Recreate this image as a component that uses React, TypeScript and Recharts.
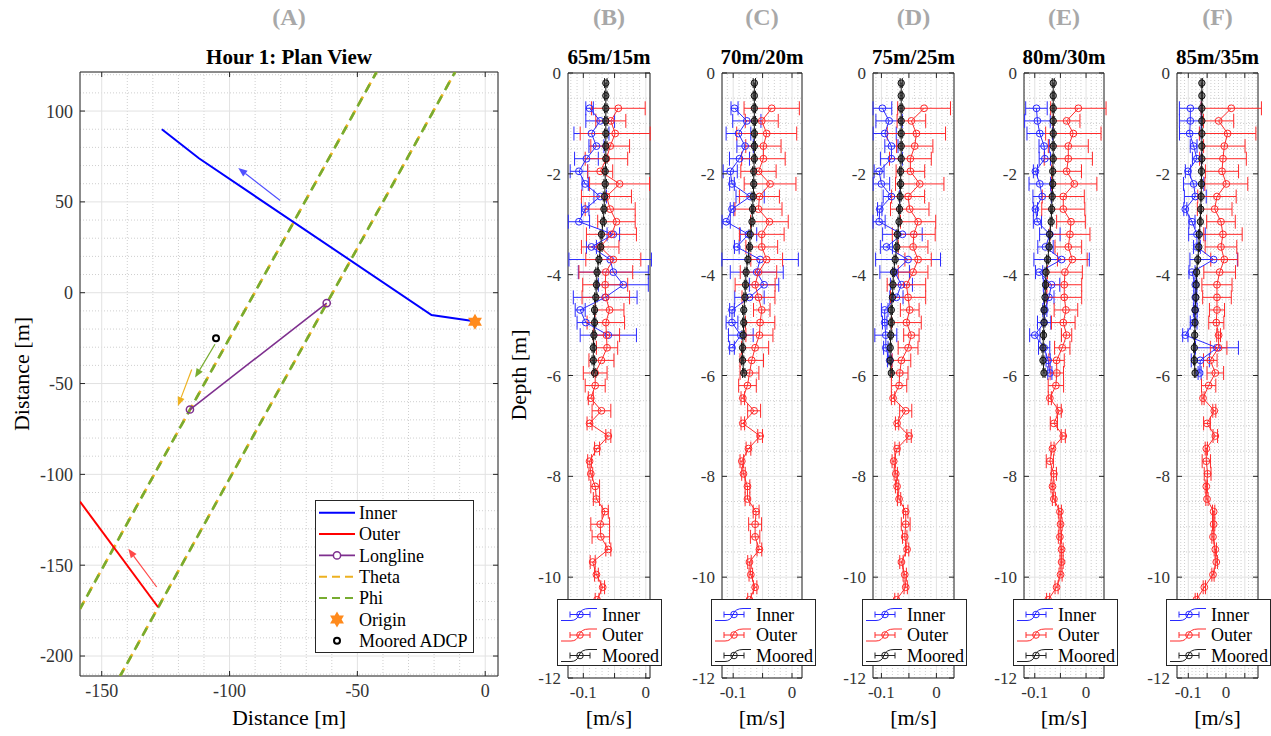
import React from "react";
import {
  ScatterChart,
  Scatter,
  XAxis,
  YAxis,
  CartesianGrid,
  ErrorBar,
  ReferenceLine,
  ReferenceArea,
} from "recharts";

const FONT = "Liberation Serif, Times New Roman, Times, serif";
const AXIS = "#262626";
const TICK_TXT = "#333333";
const GRID = "#e2e2e2";
const MINOR = "#cfcfcf";
const TICK_MARGIN = 7;
const TICK_LEN = 5;

// ---------- (A) plan view ----------
const innerTrack = [
  { x: -126.5, y: 90 },
  { x: -112, y: 74 },
  { x: -21, y: -12.3 },
  { x: -3.5, y: -15.9 },
];
const outerTrack = [
  { x: -158.5, y: -115 },
  { x: -128, y: -173 },
];
const longline = [
  { x: -115.5, y: -64.3 },
  { x: -62, y: -5.7 },
];
const thetaA = [
  { x: -158.5, y: -174 },
  { x: -42.5, y: 121.5 },
];
const thetaB = [
  { x: -142.8, y: -211 },
  { x: -11.8, y: 121.5 },
];
const phiA = [
  { x: -158.5, y: -174 },
  { x: -42.5, y: 121.5 },
];
const phiB = [
  { x: -142.8, y: -211 },
  { x: -11.8, y: 121.5 },
];
const origin = [{ x: -4, y: -16 }];
const mooredAdcp = [{ x: -105.3, y: -25.1 }];
const arrowInner = [{ x: -80.2, y: 50.8 }, { x: -96.6, y: 68.6 }];
const arrowOuter = [{ x: -128.5, y: -162 }, { x: -139.6, y: -141 }];
const arrowPhi = [{ x: -105.7, y: -28.4 }, { x: -113.5, y: -46.7 }];
const arrowTheta = [{ x: -114.8, y: -42.3 }, { x: -120.2, y: -62.4 }];

const planXTicks = [-150, -100, -50, 0];
const planYTicks = [-200, -150, -100, -50, 0, 50, 100];

// ---------- (B)-(F) velocity profiles ----------
const mooredDepth = [
  -0.2, -0.45, -0.7, -0.95, -1.2, -1.45, -1.7, -1.95, -2.2, -2.45, -2.7, -2.95,
  -3.2, -3.45, -3.7, -3.95, -4.2, -4.45, -4.7, -4.95, -5.2, -5.45, -5.7, -5.95,
];
const mooredVel = [
  -0.064, -0.064, -0.064, -0.064, -0.064, -0.064, -0.064, -0.065, -0.065, -0.066,
  -0.067, -0.068, -0.071, -0.072, -0.075, -0.078, -0.079, -0.08, -0.082, -0.082,
  -0.083, -0.084, -0.084, -0.082,
];
const mooredErr = [
  0.002, 0.002, 0.002, 0.002, 0.002, 0.002, 0.002, 0.002, 0.002, 0.002, 0.002, 0.002,
  0.002, 0.002, 0.002, 0.002, 0.002, 0.002, 0.002, 0.002, 0.002, 0.002, 0.002, 0.002,
];

const innerDepth = [
  -0.7, -0.95, -1.2, -1.45, -1.7, -1.95, -2.2, -2.45, -2.7, -2.95, -3.2, -3.45,
  -3.7, -3.95, -4.2, -4.45, -4.7, -4.95, -5.2, -5.45, -5.7, -5.95,
];
const outerDepth = [
  -0.7, -0.95, -1.2, -1.45, -1.7, -1.95, -2.2, -2.45, -2.7, -2.95, -3.2, -3.45,
  -3.7, -3.95, -4.2, -4.45, -4.7, -4.95, -5.2, -5.45, -5.7, -5.95, -6.2, -6.45,
  -6.7, -6.95, -7.2, -7.45, -7.7, -7.95, -8.2, -8.45, -8.7, -8.95, -9.2, -9.45,
  -9.7, -9.95, -10.2, -10.45,
];

const innerB = [-0.09, -0.073, -0.087, -0.079, -0.095, -0.107, -0.097, -0.073, -0.097, -0.107, -0.052, -0.087, -0.057, -0.052, -0.036, -0.065, -0.105, -0.096, -0.06];
const innerErrB = [0.006, 0.023, 0.028, 0.012, 0.019, 0.014, 0.005, 0.01, 0.006, 0.017, 0.01, 0.008, 0.066, 0.056, 0.04, 0.051, 0.008, 0.014, 0.045];
const outerB = [
  -0.044, -0.056, -0.049, -0.057, -0.063, -0.073, -0.042, -0.063, -0.057, -0.047,
  -0.055, -0.073, -0.052, -0.064, -0.065, -0.064, -0.058, -0.064, -0.063, -0.062,
  -0.071, -0.081, -0.081, -0.088, -0.071, -0.09, -0.06, -0.078, -0.09, -0.088,
  -0.081, -0.079, -0.065, -0.073, -0.072, -0.06, -0.085, -0.079, -0.069, -0.078,
];
const outerErrB = [
  0.043, 0.024, 0.056, 0.031, 0.034, 0.02, 0.048, 0.04, 0.04, 0.03,
  0.04, 0.03, 0.044, 0.043, 0.036, 0.038, 0.023, 0.03, 0.021, 0.017,
  0.02, 0.019, 0.016, 0.004, 0.015, 0.004, 0.004, 0.004, 0.003, 0.003,
  0.007, 0.005, 0.005, 0.015, 0.014, 0.004, 0.004, 0.003, 0.003, 0.003,
];

const innerC = [-0.0977, -0.0768, -0.091, -0.0797, -0.0893, -0.105, -0.102, -0.0712, -0.102, -0.1119, -0.074, -0.0938, -0.0542, -0.0599, -0.0475, -0.0723, -0.102, -0.102, -0.087, -0.102];
const innerErrC = [0.006, 0.024, 0.021, 0.014, 0.017, 0.012, 0.004, 0.024, 0.003, 0.007, 0.014, 0.004, 0.065, 0.045, 0.025, 0.025, 0.004, 0.01, 0.021, 0.004];
const outerC = [
  -0.0345, -0.0514, -0.043, -0.0486, -0.0486, -0.057, -0.0373, -0.0554, -0.057, -0.0384,
  -0.0514, -0.0514, -0.043, -0.057, -0.0627, -0.057, -0.0514, -0.0542, -0.0554, -0.0627,
  -0.0684, -0.0723, -0.0757, -0.0836, -0.0644, -0.0836, -0.0542, -0.074, -0.0853, -0.0825,
  -0.0757, -0.0757, -0.061, -0.0627, -0.0627, -0.0554, -0.0723, -0.07, -0.0627, -0.0723,
];
const outerErrC = [
  0.047, 0.028, 0.051, 0.03, 0.037, 0.03, 0.044, 0.034, 0.04, 0.032,
  0.038, 0.027, 0.027, 0.031, 0.034, 0.028, 0.014, 0.025, 0.023, 0.023,
  0.02, 0.016, 0.015, 0.003, 0.011, 0.003, 0.004, 0.004, 0.003, 0.003,
  0.004, 0.004, 0.005, 0.011, 0.008, 0.004, 0.003, 0.003, 0.003, 0.003,
];

const innerD = [-0.0982, -0.086, -0.094, -0.0818, -0.0818, -0.1042, -0.1, -0.0818, -0.103, -0.1042, -0.0618, -0.0909, -0.0515, -0.0758, -0.0636, -0.0727, -0.094, -0.094, -0.092, -0.092, -0.085];
const innerErrD = [0.017, 0.024, 0.021, 0.012, 0.02, 0.009, 0.015, 0.015, 0.004, 0.011, 0.036, 0.011, 0.059, 0.027, 0.02, 0.012, 0.006, 0.004, 0.02, 0.004, 0.004];
const outerD = [
  -0.0224, -0.0455, -0.0364, -0.0394, -0.0473, -0.0473, -0.0303, -0.0515, -0.0485, -0.0333,
  -0.0412, -0.0424, -0.0333, -0.0424, -0.0545, -0.0515, -0.0485, -0.0545, -0.0455, -0.0515,
  -0.0636, -0.0667, -0.0679, -0.0788, -0.0558, -0.0715, -0.0497, -0.0715, -0.0776, -0.0739,
  -0.0715, -0.0679, -0.0558, -0.0558, -0.0576, -0.0533, -0.0636, -0.0576, -0.0558, -0.0727,
];
const outerErrD = [
  0.048, 0.026, 0.053, 0.033, 0.038, 0.026, 0.044, 0.03, 0.035, 0.032,
  0.039, 0.027, 0.024, 0.027, 0.035, 0.032, 0.017, 0.027, 0.014, 0.018,
  0.017, 0.015, 0.014, 0.003, 0.011, 0.003, 0.004, 0.004, 0.003, 0.003,
  0.003, 0.003, 0.004, 0.008, 0.004, 0.003, 0.003, 0.003, 0.003, 0.003,
];

const innerE = [-0.0967, -0.0948, -0.0902, -0.0817, -0.0804, -0.0987, -0.0902, -0.0856, -0.0987, -0.0948, -0.0706, -0.0791, -0.0477, -0.0915, -0.0673, -0.0725, -0.0804, -0.0817, -0.1, -0.0817, -0.0739, -0.0706];
const innerErrE = [0.021, 0.025, 0.025, 0.01, 0.011, 0.004, 0.021, 0.018, 0.004, 0.008, 0.02, 0.015, 0.054, 0.007, 0.016, 0.01, 0.004, 0.013, 0.01, 0.011, 0.004, 0.004];
const outerE = [
  -0.015, -0.0379, -0.0248, -0.0346, -0.0346, -0.0379, -0.0229, -0.0444, -0.0444, -0.0294,
  -0.0314, -0.0346, -0.0268, -0.0412, -0.0425, -0.0425, -0.0392, -0.0444, -0.0379, -0.0464,
  -0.0575, -0.057, -0.0588, -0.0706, -0.0523, -0.0627, -0.0444, -0.0654, -0.0706, -0.0627,
  -0.0654, -0.0627, -0.051, -0.0497, -0.051, -0.0477, -0.0477, -0.0497, -0.0575, -0.0739,
];
const outerErrE = [
  0.054, 0.026, 0.054, 0.039, 0.047, 0.029, 0.044, 0.041, 0.042, 0.028,
  0.039, 0.026, 0.029, 0.034, 0.034, 0.034, 0.023, 0.023, 0.01, 0.015,
  0.015, 0.013, 0.015, 0.003, 0.004, 0.007, 0.004, 0.003, 0.007, 0.005,
  0.003, 0.003, 0.003, 0.003, 0.003, 0.003, 0.003, 0.003, 0.003, 0.003,
];

const innerF = [-0.0946, -0.0946, -0.0964, -0.0858, -0.077, -0.1008, -0.0858, -0.0814, -0.1079, -0.0902, -0.077, -0.077, -0.0327, -0.0902, -0.0814, -0.0814, -0.0814, -0.0858, -0.1079, -0.0239, -0.0681, -0.07];
const innerErrF = [0.029, 0.029, 0.027, 0.009, 0.012, 0.007, 0.027, 0.029, 0.004, 0.008, 0.022, 0.009, 0.063, 0.008, 0.004, 0.004, 0.005, 0.009, 0.007, 0.057, 0.024, 0.004];
const outerF = [
  0.0141, -0.0195, 0.0044, -0.0044, -0.008, -0.0106, 0.0009, -0.0239, -0.03, -0.0133,
  -0.008, -0.0133, -0.0044, -0.0168, -0.0239, -0.0239, -0.0239, -0.0257, -0.0195, -0.0195,
  -0.0416, -0.0283, -0.046, -0.061, -0.031, -0.0504, -0.0283, -0.0522, -0.0522, -0.0487,
  -0.0522, -0.0504, -0.0327, -0.0327, -0.0345, -0.0283, -0.0257, -0.0345, -0.0575, -0.0787,
];
const outerErrF = [
  0.08, 0.04, 0.075, 0.055, 0.062, 0.044, 0.057, 0.051, 0.046, 0.038,
  0.051, 0.042, 0.036, 0.042, 0.04, 0.038, 0.02, 0.02, 0.005, 0.022,
  0.018, 0.022, 0.019, 0.003, 0.004, 0.009, 0.006, 0.003, 0.011, 0.009,
  0.003, 0.003, 0.003, 0.003, 0.003, 0.003, 0.003, 0.003, 0.003, 0.003,
];

const depthTicks = [-12, -10, -8, -6, -4, -2, 0];
const velTicks = [-0.1, -0.05, 0, 0.05];

const panels = [
  { letter: "(B)", title: "65m/15m", left: 568, width: 82, domain: [-0.1245, 0.0067], inner: innerB, innerErr: innerErrB, outer: outerB, outerErr: outerErrB },
  { letter: "(C)", title: "70m/20m", left: 722, width: 80, domain: [-0.119, 0.017], inner: innerC, innerErr: innerErrC, outer: outerC, outerErr: outerErrC },
  { letter: "(D)", title: "75m/25m", left: 873, width: 81, domain: [-0.1153, 0.032], inner: innerD, innerErr: innerErrD, outer: outerD, outerErr: outerErrD },
  { letter: "(E)", title: "80m/30m", left: 1024, width: 80, domain: [-0.121, 0.035], inner: innerE, innerErr: innerErrE, outer: outerE, outerErr: outerErrE },
  { letter: "(F)", title: "85m/35m", left: 1177, width: 81, domain: [-0.13, 0.085], inner: innerF, innerErr: innerErrF, outer: outerF, outerErr: outerErrF },
];

// grid helper (not data)
const steps = (lo: number, hi: number, step: number) => {
  const out: number[] = [];
  for (let v = Math.ceil(lo / step - 1e-9) * step; v <= hi + 1e-9; v += step) {
    out.push(Math.round(v * 1e6) / 1e6);
  }
  return out;
};

const svgText = { fontFamily: FONT };

const Txt = ({ x, y, size, bold, color, rotate, children }: any) => (
  <div
    style={{
      position: "absolute",
      left: x,
      top: y,
      transform: `translate(-50%, -50%)${rotate ? " rotate(-90deg)" : ""}`,
      fontSize: size,
      fontWeight: bold ? 700 : 400,
      color: color || "#000",
      fontFamily: FONT,
      whiteSpace: "nowrap",
      lineHeight: 1,
    }}
  >
    {children}
  </div>
);

const makeXTick = (plotH: number, size: number, fmt: (v: number) => string) => (props: any) => {
  const { x, y, payload } = props;
  const axisY = y - TICK_MARGIN;
  return (
    <g>
      <line x1={x} x2={x} y1={axisY} y2={axisY - TICK_LEN} stroke={AXIS} />
      <line x1={x} x2={x} y1={axisY - plotH} y2={axisY - plotH + TICK_LEN} stroke={AXIS} />
      <text x={x} y={y} dy="0.75em" textAnchor="middle" fontSize={size} fill={TICK_TXT} fontFamily={FONT} style={svgText}>
        {fmt(payload.value)}
      </text>
    </g>
  );
};

const makeYTick = (plotW: number, size: number) => (props: any) => {
  const { x, y, payload } = props;
  const axisX = x + TICK_MARGIN;
  return (
    <g>
      <line x1={axisX} x2={axisX + TICK_LEN} y1={y} y2={y} stroke={AXIS} />
      <line x1={axisX + plotW} x2={axisX + plotW - TICK_LEN} y1={y} y2={y} stroke={AXIS} />
      <text x={x} y={y} dy="0.36em" textAnchor="end" fontSize={size} fill={TICK_TXT} fontFamily={FONT} style={svgText}>
        {String(payload.value)}
      </text>
    </g>
  );
};

const arrowShape = (color: string) => (p: any) => {
  const { x1, y1, x2, y2 } = p;
  const a = Math.atan2(y2 - y1, x2 - x1);
  const L = 9;
  const W = 3.6;
  const bx = x2 - L * Math.cos(a);
  const by = y2 - L * Math.sin(a);
  const px = -Math.sin(a) * W;
  const py = Math.cos(a) * W;
  return (
    <g>
      <line x1={x1} y1={y1} x2={bx} y2={by} stroke={color} strokeWidth={1.2} />
      <polygon points={`${x2},${y2} ${bx + px},${by + py} ${bx - px},${by - py}`} fill={color} />
    </g>
  );
};

const hexagram = (cx: number, cy: number, R: number) => {
  const pts: string[] = [];
  for (let k = 0; k < 12; k++) {
    const ang = (-90 + k * 30) * (Math.PI / 180);
    const r = k % 2 === 0 ? R : R * 0.577;
    pts.push(`${cx + r * Math.cos(ang)},${cy + r * Math.sin(ang)}`);
  }
  return pts.join(" ");
};

const noDot = () => <g />;

const PlanView = () => {
  const plotW = 418;
  const plotH = 604;
  const xd: [number, number] = [-158.5, 5];
  const yd: [number, number] = [-211, 121.5];
  const minorX = steps(xd[0], xd[1], 10).filter((v) => v % 50 !== 0);
  const minorY = steps(yd[0], yd[1], 10).filter((v) => v % 50 !== 0);
  return (
    <div style={{ position: "absolute", left: 0, top: 0 }}>
      <ScatterChart width={510} height={736} margin={{ top: 72, right: 12, bottom: 30, left: 10 }}>
        {minorX.map((v) => (
          <ReferenceLine key={`mx${v}`} x={v} stroke={MINOR} strokeDasharray="1 2" zIndex={-100} />
        ))}
        {minorY.map((v) => (
          <ReferenceLine key={`my${v}`} y={v} stroke={MINOR} strokeDasharray="1 2" zIndex={-100} />
        ))}
        <CartesianGrid stroke={GRID} />
        <XAxis
          type="number"
          dataKey="x"
          domain={xd}
          allowDataOverflow
          ticks={planXTicks}
          interval={0}
          height={30}
          axisLine={false}
          tickLine={false}
          tickSize={0}
          tickMargin={TICK_MARGIN}
          tick={makeXTick(plotH, 18, (v) => String(v))}
        />
        <YAxis
          type="number"
          dataKey="y"
          domain={yd}
          allowDataOverflow
          ticks={planYTicks}
          interval={0}
          width={70}
          axisLine={false}
          tickLine={false}
          tickSize={0}
          tickMargin={TICK_MARGIN}
          tick={makeYTick(plotW, 18)}
        />
        <Scatter data={thetaA} shape={noDot} line={{ stroke: "#EDB120", strokeWidth: 2.6, strokeDasharray: "9 7" }} isAnimationActive={false} />
        <Scatter data={thetaB} shape={noDot} line={{ stroke: "#EDB120", strokeWidth: 2.6, strokeDasharray: "9 7" }} isAnimationActive={false} />
        <Scatter data={phiA} shape={noDot} line={{ stroke: "#77AC30", strokeWidth: 2.6, strokeDasharray: "9 7", strokeDashoffset: 2 }} isAnimationActive={false} />
        <Scatter data={phiB} shape={noDot} line={{ stroke: "#77AC30", strokeWidth: 2.6, strokeDasharray: "9 7", strokeDashoffset: 2 }} isAnimationActive={false} />
        <Scatter data={innerTrack} shape={noDot} line={{ stroke: "#0000ff", strokeWidth: 2 }} isAnimationActive={false} />
        <Scatter data={outerTrack} shape={noDot} line={{ stroke: "#ff0000", strokeWidth: 2 }} isAnimationActive={false} />
        <Scatter
          data={longline}
          line={{ stroke: "#7E2F8E", strokeWidth: 1.6 }}
          shape={(p: any) => <circle cx={p.cx} cy={p.cy} r={3.6} fill="none" stroke="#7E2F8E" strokeWidth={1.5} />}
          isAnimationActive={false}
        />
        <Scatter
          data={origin}
          shape={(p: any) => <polygon points={hexagram(p.cx, p.cy, 8)} fill="#ff8a1c" />}
          isAnimationActive={false}
        />
        <Scatter
          data={mooredAdcp}
          shape={(p: any) => <circle cx={p.cx} cy={p.cy} r={3} fill="none" stroke="#000" strokeWidth={2} />}
          isAnimationActive={false}
        />
        <ReferenceLine segment={arrowInner} shape={arrowShape("#5050ff")} ifOverflow="visible" />
        <ReferenceLine segment={arrowOuter} shape={arrowShape("#ff4848")} ifOverflow="visible" />
        <ReferenceLine segment={arrowPhi} shape={arrowShape("#77AC30")} ifOverflow="visible" />
        <ReferenceLine segment={arrowTheta} shape={arrowShape("#EDB120")} ifOverflow="visible" />
        <ReferenceArea x1={xd[0]} x2={xd[1]} y1={yd[0]} y2={yd[1]} fill="none" stroke={AXIS} strokeWidth={1} ifOverflow="visible" />
      </ScatterChart>
    </div>
  );
};

const PlanLegend = () => {
  const rows = ["Inner", "Outer", "Longline", "Theta", "Phi", "Origin", "Moored ADCP"];
  const x0 = 4;
  const x1 = 40;
  const cx = 22;
  return (
    <div style={{ position: "absolute", left: 315, top: 500 }}>
      <svg width={160} height={154}>
        <rect x={0.5} y={0.5} width={158} height={152} fill="#fff" stroke={AXIS} />
        {rows.map((r, i) => {
          const y = 12.7 + i * 21.35;
          let icon: React.ReactNode = null;
          if (i === 0) icon = <line x1={x0} x2={x1} y1={y} y2={y} stroke="#0000ff" strokeWidth={2} />;
          if (i === 1) icon = <line x1={x0} x2={x1} y1={y} y2={y} stroke="#ff0000" strokeWidth={2} />;
          if (i === 2)
            icon = (
              <g>
                <line x1={x0} x2={x1} y1={y} y2={y} stroke="#7E2F8E" strokeWidth={1.6} />
                <circle cx={cx} cy={y} r={3.6} fill="#fff" stroke="#7E2F8E" strokeWidth={1.5} />
              </g>
            );
          if (i === 3) icon = <line x1={x0} x2={x1} y1={y} y2={y} stroke="#EDB120" strokeWidth={2} strokeDasharray="8 5" />;
          if (i === 4) icon = <line x1={x0} x2={x1} y1={y} y2={y} stroke="#77AC30" strokeWidth={2} strokeDasharray="8 5" />;
          if (i === 5) icon = <polygon points={hexagram(cx, y, 8)} fill="#ff8a1c" />;
          if (i === 6) icon = <circle cx={cx} cy={y} r={3} fill="none" stroke="#000" strokeWidth={2} />;
          return (
            <g key={r}>
              {icon}
              <text x={44} y={y} dy="0.35em" fontSize={18} fill="#000" fontFamily={FONT} style={svgText}>
                {r}
              </text>
            </g>
          );
        })}
      </svg>
    </div>
  );
};

const openCircle = (color: string) => (p: any) => (
  <circle cx={p.cx} cy={p.cy} r={3.4} fill="none" stroke={color} strokeWidth={1} />
);
const mooredCircle = (p: any) => (
  <circle cx={p.cx} cy={p.cy} r={3.2} fill="rgba(60,60,60,0.5)" stroke="#111" strokeWidth={1} />
);

const ProfileLegend = ({ left }: { left: number }) => {
  const items = [
    { name: "Inner", color: "#2a2aff" },
    { name: "Outer", color: "#ff2a2a" },
    { name: "Moored", color: "#222" },
  ];
  return (
    <div style={{ position: "absolute", left: left - 11, top: 599 }}>
      <svg width={106} height={68}>
        <rect x={0.5} y={0.5} width={104} height={66} fill="#fff" stroke={AXIS} />
        {items.map((it, i) => {
          const y = 15.5 + i * 20.5;
          return (
            <g key={it.name}>
              <path d={`M4,${y + 6} L14,${y + 6} Q20,${y + 6} 22,${y} Q24,${y - 6} 32,${y - 6} L40,${y - 6}`} fill="none" stroke={it.color} strokeWidth={1} />
              <line x1={13} x2={33} y1={y} y2={y} stroke={it.color} />
              <line x1={13} x2={13} y1={y - 3} y2={y + 3} stroke={it.color} />
              <line x1={33} x2={33} y1={y - 3} y2={y + 3} stroke={it.color} />
              <circle cx={23} cy={y} r={3.3} fill="none" stroke={it.color} />
              <text x={45} y={y} dy="0.35em" fontSize={18} fill="#000" fontFamily={FONT} style={svgText}>
                {it.name}
              </text>
            </g>
          );
        })}
      </svg>
    </div>
  );
};

const ProfilePanel = ({ cfg }: { cfg: (typeof panels)[number] }) => {
  const plotH = 605;
  const yd: [number, number] = [-12, 0];
  const xd = cfg.domain as [number, number];
  const inner = cfg.inner.map((v, i) => ({ v, d: innerDepth[i], e: cfg.innerErr[i] }));
  const outer = cfg.outer.map((v, i) => ({ v, d: outerDepth[i], e: cfg.outerErr[i] }));
  const moored = mooredVel.map((v, i) => ({ v, d: mooredDepth[i], e: mooredErr[i] }));
  const ticks = velTicks.filter((t) => t >= xd[0] && t <= xd[1]);
  const minorX = steps(xd[0], xd[1], 0.01).filter((v) => Math.abs(v / 0.05 - Math.round(v / 0.05)) > 1e-6);
  const minorY = steps(-12, 0, 0.5).filter((v) => v % 2 !== 0);
  const fmt = (v: number) => (Math.abs(v + 0.1) < 1e-9 ? "-0.1" : Math.abs(v) < 1e-9 ? "0" : "");
  return (
    <div style={{ position: "absolute", left: cfg.left - 45, top: 0 }}>
      <ScatterChart width={45 + cfg.width + 15} height={736} margin={{ top: 73, right: 15, bottom: 28, left: 0 }}>
        {minorX.map((v) => (
          <ReferenceLine key={`mx${v}`} x={v} stroke={MINOR} strokeDasharray="1 2" zIndex={-100} />
        ))}
        {minorY.map((v) => (
          <ReferenceLine key={`my${v}`} y={v} stroke={MINOR} strokeDasharray="1 2" zIndex={-100} />
        ))}
        <CartesianGrid stroke={GRID} />
        <XAxis
          type="number"
          dataKey="v"
          domain={xd}
          allowDataOverflow
          ticks={ticks}
          interval={0}
          height={30}
          axisLine={false}
          tickLine={false}
          tickSize={0}
          tickMargin={TICK_MARGIN}
          tick={makeXTick(plotH, 17, fmt)}
        />
        <YAxis
          type="number"
          dataKey="d"
          domain={yd}
          allowDataOverflow
          ticks={depthTicks}
          interval={0}
          width={45}
          axisLine={false}
          tickLine={false}
          tickSize={0}
          tickMargin={TICK_MARGIN}
          tick={makeYTick(cfg.width, 17)}
        />
        <Scatter data={inner} line={{ stroke: "#2a2aff", strokeWidth: 1 }} shape={openCircle("#2a2aff")} isAnimationActive={false}>
          <ErrorBar dataKey="e" direction="x" width={7} stroke="#2a2aff" strokeWidth={1} isAnimationActive={false} />
        </Scatter>
        <Scatter data={outer} line={{ stroke: "#ff2a2a", strokeWidth: 1 }} shape={openCircle("#ff2a2a")} isAnimationActive={false}>
          <ErrorBar dataKey="e" direction="x" width={7} stroke="#ff2a2a" strokeWidth={1} isAnimationActive={false} />
        </Scatter>
        <Scatter data={moored} line={{ stroke: "#111", strokeWidth: 1 }} shape={mooredCircle} isAnimationActive={false}>
          <ErrorBar dataKey="e" direction="x" width={5} stroke="#111" strokeWidth={1} isAnimationActive={false} />
        </Scatter>
        <ReferenceArea x1={xd[0]} x2={xd[1]} y1={yd[0]} y2={yd[1]} fill="none" stroke={AXIS} strokeWidth={1} ifOverflow="visible" />
      </ScatterChart>
    </div>
  );
};

export default function App() {
  return (
    <div style={{ position: "absolute", left: 0, top: 0, width: 1271, height: 736, background: "#fff", fontFamily: FONT }}>
      <PlanView />
      <PlanLegend />
      <Txt x={289} y={17} size={24} bold color="#a8a8a8">(A)</Txt>
      <Txt x={289} y={57} size={21} bold>Hour 1: Plan View</Txt>
      <Txt x={289} y={718} size={22}>Distance [m]</Txt>
      <Txt x={22} y={374} size={22} rotate>Distance [m]</Txt>
      {panels.map((p) => (
        <React.Fragment key={p.letter}>
          <ProfilePanel cfg={p} />
          <ProfileLegend left={p.left} />
          <Txt x={p.left + p.width / 2} y={17} size={24} bold color="#a8a8a8">{p.letter}</Txt>
          <Txt x={p.left + p.width / 2} y={57} size={21} bold>{p.title}</Txt>
          <Txt x={p.left + p.width / 2} y={718} size={22}>[m/s]</Txt>
        </React.Fragment>
      ))}
      <Txt x={519} y={375} size={22} rotate>Depth [m]</Txt>
    </div>
  );
}
